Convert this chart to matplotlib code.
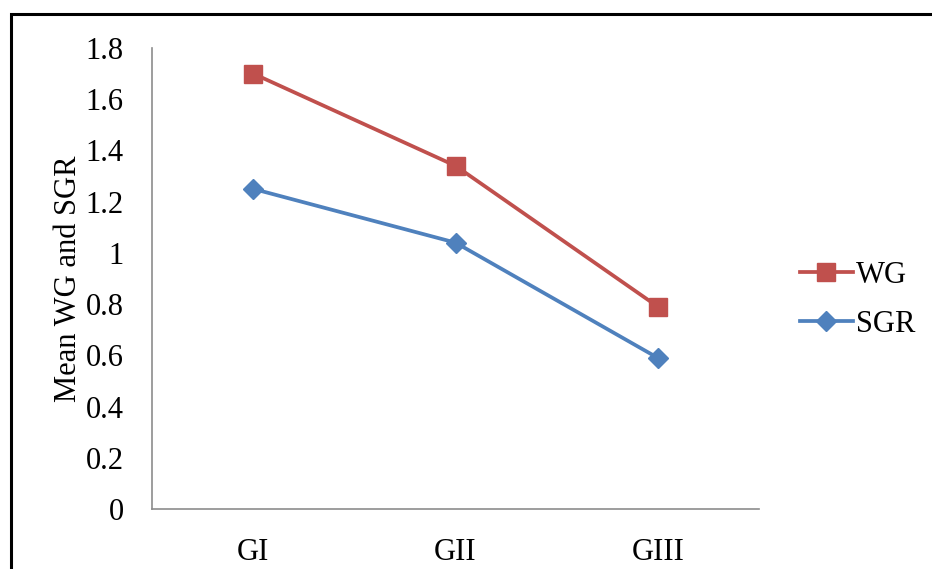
import matplotlib.pyplot as plt
from matplotlib.patches import Rectangle

groups = ['GI', 'GII', 'GIII']
wg = [1.70, 1.34, 0.79]
sgr = [1.25, 1.04, 0.59]
y_ticks = [0, 0.2, 0.4, 0.6, 0.8, 1.0, 1.2, 1.4, 1.6, 1.8]
y_tick_labels = ['0', '0.2', '0.4', '0.6', '0.8', '1', '1.2', '1.4', '1.6', '1.8']

plt.rcParams['font.family'] = ['Liberation Serif', 'DejaVu Serif']

fig = plt.figure(figsize=(9.32, 5.69), dpi=100)
ax = fig.add_axes([152 / 932, 1 - 509 / 569, 607 / 932, 461 / 569])

x = [i + 0.5 for i in range(len(groups))]
ax.plot(x, wg, color='#C0504D', lw=2.7, marker='s', ms=13, label='WG')
ax.plot(x, sgr, color='#4F81BD', lw=2.7, marker='D', ms=10, label='SGR')

ax.set_xlim(0, 3)
ax.set_ylim(0, 1.8)
ax.set_xticks(x)
ax.set_xticklabels(groups)
ax.set_yticks(y_ticks)
ax.set_yticklabels(y_tick_labels)
ax.tick_params(length=0, labelsize=22)
ax.tick_params(axis='y', pad=20.5)
ax.tick_params(axis='x', pad=21)
ax.set_ylabel('Mean WG and SGR', fontsize=22, labelpad=2)

for side in ['top', 'right']:
    ax.spines[side].set_visible(False)
for side in ['left', 'bottom']:
    ax.spines[side].set_color('#8c8c8c')
    ax.spines[side].set_linewidth(1.2)

ax.legend(loc='center left', bbox_to_anchor=(772 / 932, 1 - 300 / 569),
          bbox_transform=fig.transFigure, frameon=False, fontsize=22,
          handlelength=1.75, handletextpad=0.1, labelspacing=0.65)

# outer frame, cut off at the right and bottom like the source
fig.patches.append(Rectangle((10.5 / 932, -0.05), 1.0, 1.05 - 13.5 / 569,
                             transform=fig.transFigure, fill=False,
                             edgecolor='black', lw=2.2, clip_on=False))

fig.savefig('out.png', dpi=100)
